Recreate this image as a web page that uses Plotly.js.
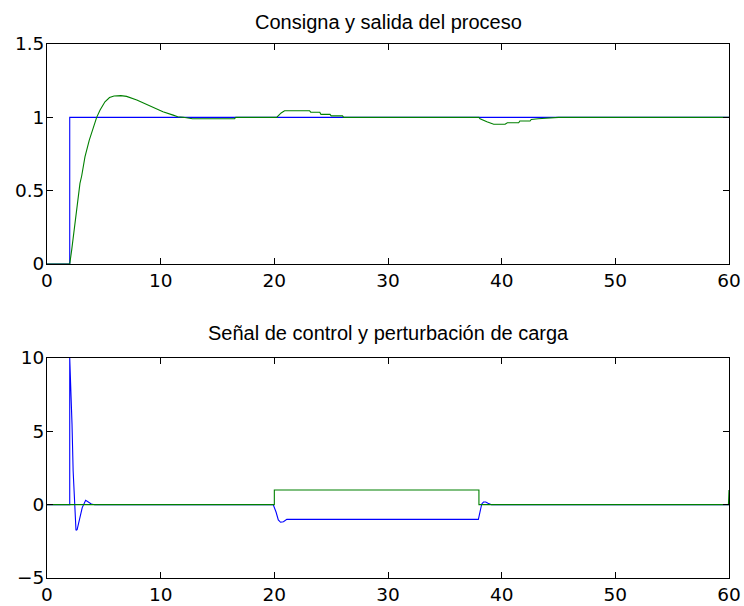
<!DOCTYPE html>
<html>
<head>
<meta charset="utf-8">
<script src="https://cdn.plot.ly/plotly-3.0.1.min.js"></script>
<style>
  html, body { margin: 0; padding: 0; background: #fff; }
  #chart { width: 744px; height: 606px; }
</style>
</head>
<body>
<div id="chart"></div>
<script>
// Setpoint r(t)
const tRef = [0, 2.0, 2.0, 60];
const yRef = [0, 0, 1, 1];

// Process output y(t)
const tOut = [0, 2.0, 2.17, 2.46, 2.67, 2.9, 3.05, 3.34, 3.72, 4.07, 4.37, 4.67, 5.1, 5.5, 5.9, 6.5, 7.0, 7.9, 9.06, 10.2, 11.1, 11.5, 12.0, 12.8, 16.5, 16.6,
  20.0, 20.2, 20.6, 20.9, 23.1, 23.2, 24.0, 24.1, 24.9, 25.0, 26.0, 26.1,
  38.0, 38.1, 38.7, 39.3, 40.3, 40.5, 41.5, 41.6, 42.5, 42.6, 43.2, 44.5, 45.0, 60];
const yOut = [0, 0, 0.095, 0.277, 0.41, 0.55, 0.6, 0.73, 0.845, 0.936, 1.0, 1.05, 1.106, 1.135, 1.145, 1.148, 1.143, 1.118, 1.077, 1.038, 1.015, 1.004, 1.0, 0.99, 0.99, 1.0,
  1.0, 1.0, 1.03, 1.045, 1.045, 1.035, 1.035, 1.02, 1.02, 1.01, 1.01, 1.0,
  1.0, 0.99, 0.97, 0.953, 0.953, 0.963, 0.963, 0.975, 0.975, 0.985, 0.99, 0.995, 1.0, 1.0];

// Control signal u(t)
const tCtl = [0, 2.0, 2.0, 2.1, 2.2, 2.3, 2.45, 2.55, 2.65, 3.0, 3.1, 3.4, 3.6, 3.9, 4.2,
  19.9, 20.15, 20.35, 20.55, 20.8, 21.1, 37.95, 38.1, 38.25, 38.4, 38.6, 38.8, 39.1, 60];
const uCtl = [0, 0, 10, 8.3, 5.5, 2.3, -0.2, -1.75, -1.7, -0.6, -0.2, 0.3, 0.2, 0.05, 0,
  0, -0.5, -1.04, -1.2, -1.16, -1.0, -1.0, -0.47, 0.05, 0.18, 0.18, 0.1, 0, 0];

// Load disturbance d(t)
const tLoad = [0, 20, 20, 38, 38, 59.95, 60];
const dLoad = [0, 0, 1, 1, 0, 0, 1];

const xTicks = [0, 10, 20, 30, 40, 50, 60];
const yTicksTop = [0, 0.5, 1, 1.5];
const yTickTextTop = ['0', '0.5', '1', '1.5'];
const yTicksBot = [-5, 0, 5, 10];

const titleTop = 'Consigna y salida del proceso';
const titleBot = 'Señal de control y perturbación de carga';

const W = 744, H = 606;
const TITLE_FONT = 'Liberation Sans, Arial, sans-serif';
const TICK_FONT = 'DejaVu Sans, sans-serif';
const BLUE = '#0000ff', GREEN = '#008000';

const line = (c) => ({ color: c, width: 1.1 });

const traces = [
  { x: tRef, y: yRef, xaxis: 'x', yaxis: 'y', mode: 'lines', line: line(BLUE), hoverinfo: 'skip' },
  { x: tOut, y: yOut, xaxis: 'x', yaxis: 'y', mode: 'lines', line: line(GREEN), hoverinfo: 'skip' },
  { x: tCtl, y: uCtl, xaxis: 'x2', yaxis: 'y2', mode: 'lines', line: line(BLUE), hoverinfo: 'skip' },
  { x: tLoad, y: dLoad, xaxis: 'x2', yaxis: 'y2', mode: 'lines', line: line(GREEN), hoverinfo: 'skip' }
];

const axBase = {
  showline: true, linecolor: '#000', linewidth: 1, mirror: 'ticks',
  ticks: 'inside', ticklen: 6, tickwidth: 1, tickcolor: '#000',
  showgrid: false, zeroline: false, automargin: false,
  tickfont: { family: TICK_FONT, size: 18.5, color: '#000' }, fixedrange: true
};

const px = (p) => p / W;
const py = (p) => 1 - p / H;

const layout = {
  width: W, height: H,
  margin: { l: 0, r: 0, t: 0, b: 0 },
  paper_bgcolor: '#fff', plot_bgcolor: '#fff',
  showlegend: false,
  xaxis: Object.assign({}, axBase, { domain: [px(47), px(729)], range: [0, 60], tickvals: xTicks, anchor: 'y' }),
  yaxis: Object.assign({}, axBase, { domain: [py(264), py(44)], range: [0, 1.5], tickvals: yTicksTop, ticktext: yTickTextTop, anchor: 'x', ticklabelstandoff: -2 }),
  xaxis2: Object.assign({}, axBase, { domain: [px(47), px(729)], range: [0, 60], tickvals: xTicks, anchor: 'y2' }),
  yaxis2: Object.assign({}, axBase, { domain: [py(578), py(358)], range: [-5, 10], tickvals: yTicksBot, anchor: 'x2', ticklabelstandoff: -2 }),
  annotations: [
    { text: titleTop, xref: 'paper', yref: 'paper', x: px(388), y: py(22), xanchor: 'center', yanchor: 'middle', showarrow: false,
      font: { family: TITLE_FONT, size: 20, color: '#000' } },
    { text: titleBot, xref: 'paper', yref: 'paper', x: px(388), y: py(333), xanchor: 'center', yanchor: 'middle', showarrow: false,
      font: { family: TITLE_FONT, size: 20, color: '#000' } }
  ]
};

Plotly.newPlot('chart', traces, layout, { staticPlot: true, displayModeBar: false });
</script>
</body>
</html>
